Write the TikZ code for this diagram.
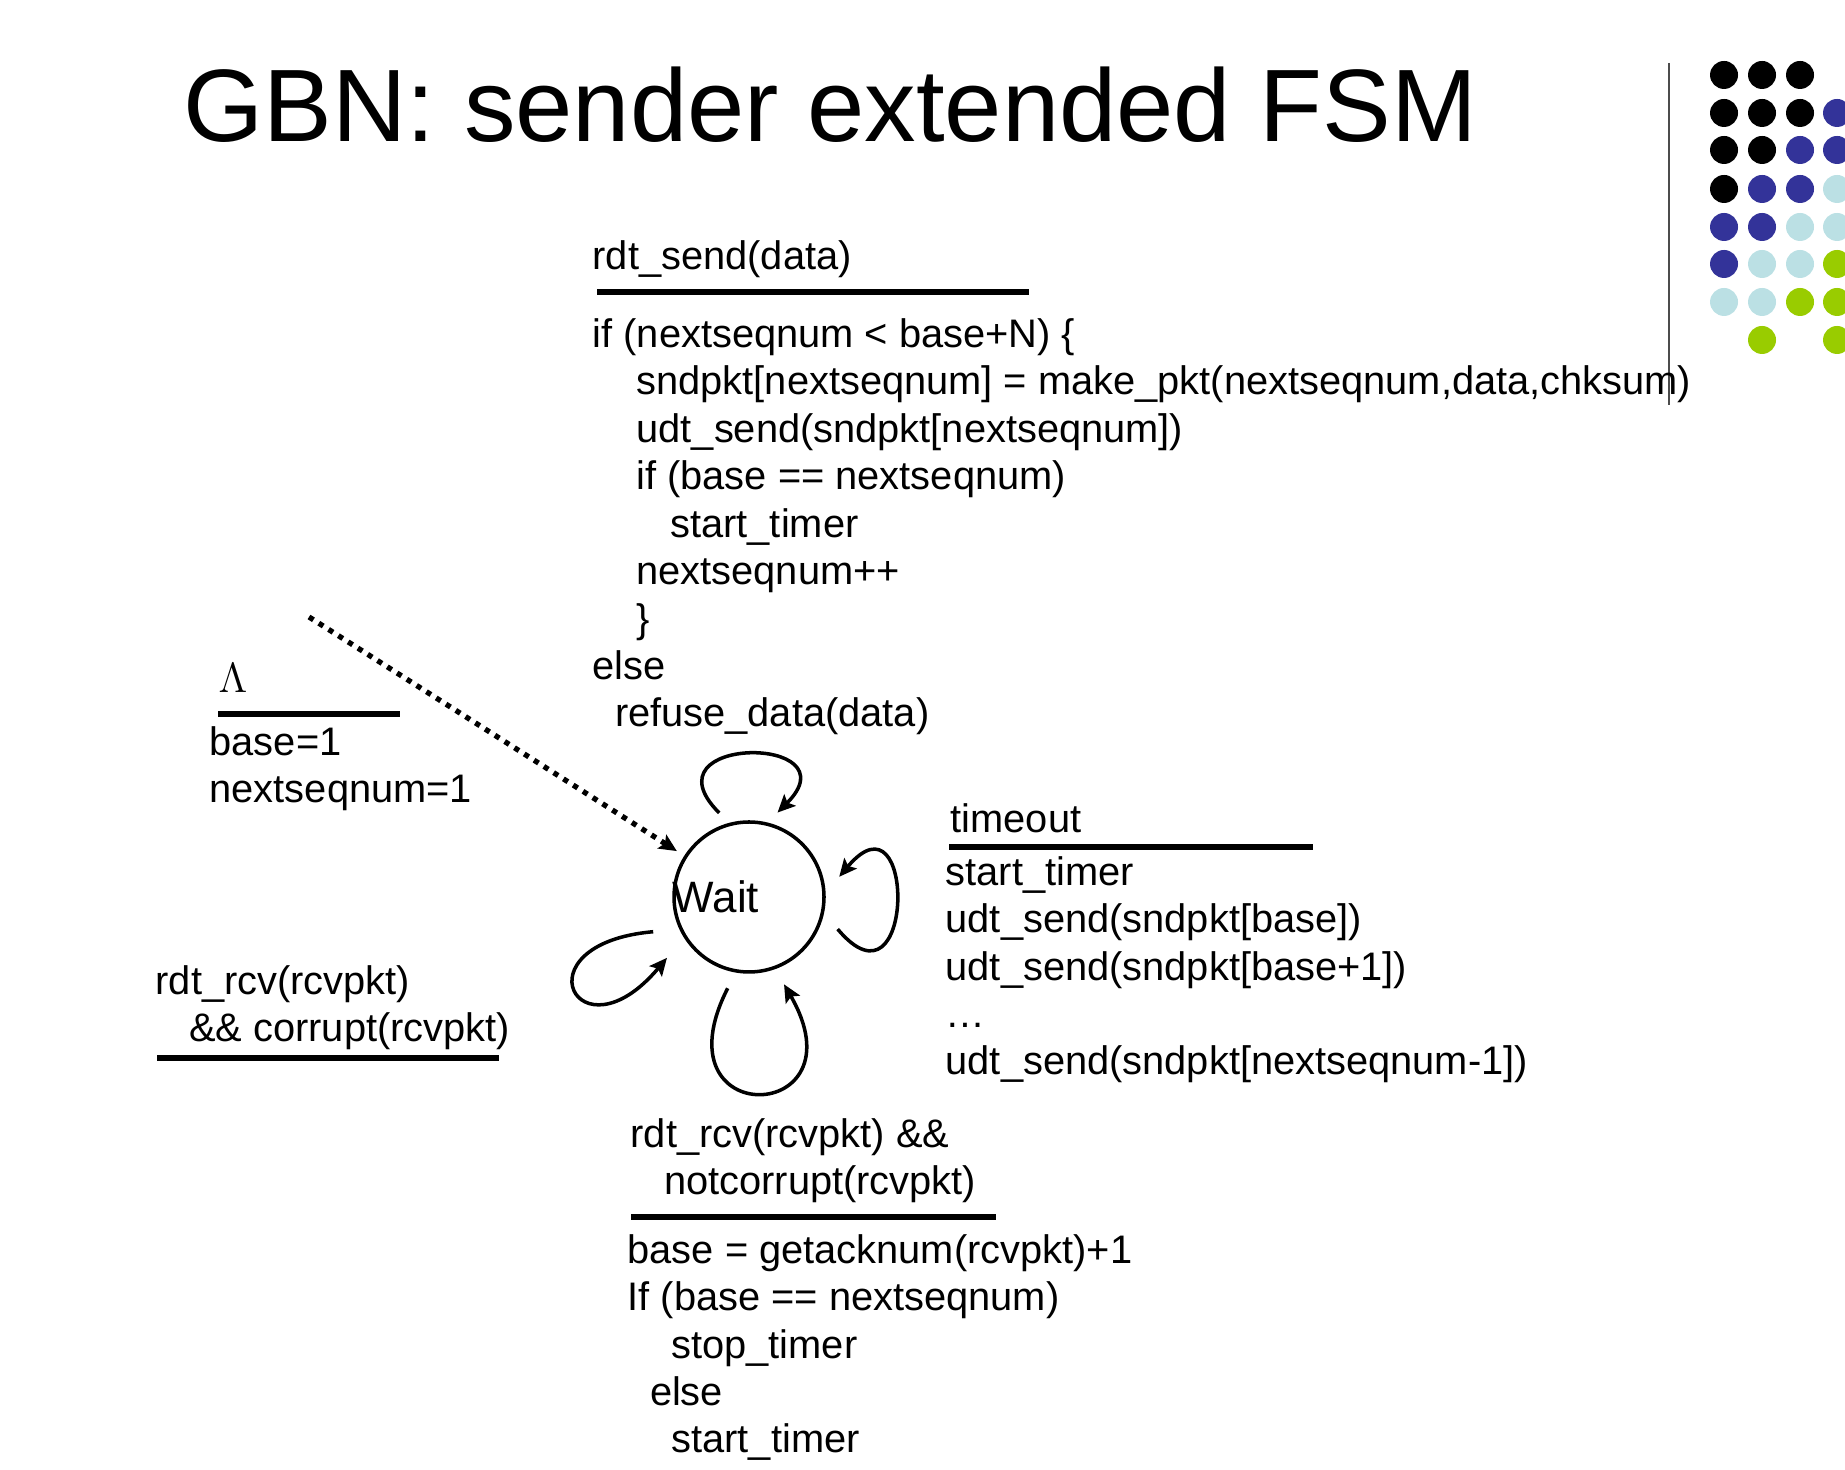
\documentclass[tikz,border=0pt]{standalone}
\usepackage{fontspec}
\setmainfont{Liberation Sans}
\usepackage{tikz}
\usetikzlibrary{arrows.meta}
\definecolor{dotblue}{RGB}{51,51,153}
\definecolor{dotcyan}{RGB}{187,224,228}
\definecolor{dotgreen}{RGB}{153,204,0}
\newcommand{\fsmtext}{\fontsize{11.33}{13.5}\selectfont}

\begin{document}
\begin{tikzpicture}[>={Stealth[length=5pt, width=4.6pt, inset=1pt]},
  evt/.style={anchor=base west, inner sep=0pt, align=left, font=\fsmtext},
  rulebar/.style={line width=1.6pt},
  fsmstate/.style={circle, draw, line width=1pt, minimum size=1.5cm, inner sep=0pt},
  fsmloop/.style={->, line width=1pt},
  initarrow/.style={->, line width=1.5pt, dash pattern=on 1.5pt off 1.8pt}]
  \useasboundingbox (0,0) rectangle (18.45,14.70);

  % title and slide decoration
  \node[anchor=base west, inner sep=0pt, font=\fontsize{29.3}{35}\selectfont] (title)
    at (1.83,13.28) {GBN: sender extended FSM};
  \draw[black!70, line width=0.6pt] (16.69,14.07) -- (16.69,10.65);
  \foreach \cx/\dc in {17.24/black,17.62/black,18.00/black}
    \fill[\dc] (\cx,13.95) circle (0.14);
  \foreach \cx/\dc in {17.24/black,17.62/black,18.00/black,18.37/dotblue}
    \fill[\dc] (\cx,13.57) circle (0.14);
  \foreach \cx/\dc in {17.24/black,17.62/black,18.00/dotblue,18.37/dotblue}
    \fill[\dc] (\cx,13.20) circle (0.14);
  \foreach \cx/\dc in {17.24/black,17.62/dotblue,18.00/dotblue,18.37/dotcyan}
    \fill[\dc] (\cx,12.81) circle (0.14);
  \foreach \cx/\dc in {17.24/dotblue,17.62/dotblue,18.00/dotcyan,18.37/dotcyan}
    \fill[\dc] (\cx,12.43) circle (0.14);
  \foreach \cx/\dc in {17.24/dotblue,17.62/dotcyan,18.00/dotcyan,18.37/dotgreen}
    \fill[\dc] (\cx,12.06) circle (0.14);
  \foreach \cx/\dc in {17.24/dotcyan,17.62/dotcyan,18.00/dotgreen,18.37/dotgreen}
    \fill[\dc] (\cx,11.68) circle (0.14);
  \foreach \cx/\dc in {17.62/dotgreen,18.37/dotgreen}
    \fill[\dc] (\cx,11.30) circle (0.14);

  % the one state
  \node[fsmstate, label={[name=waitlbl, anchor=west, inner sep=0pt,
        font=\fontsize{12.5}{15}\selectfont]west:Wait}] (wait) at (7.49,5.73) {};

  % rdt_send (multi-line nodes sit on their last baseline)
  \node[evt] (sendev) at (5.92,12.00) {rdt\_send(data)};
  \draw[rulebar] (5.97,11.78) -- (10.29,11.78);
  \node[evt] (sendact) at (5.92,7.43) {if (nextseqnum < base+N) \{\\
    \hspace*{1.1em}sndpkt[nextseqnum] = make\_pkt(nextseqnum,data,chksum)\\
    \hspace*{1.1em}udt\_send(sndpkt[nextseqnum])\\
    \hspace*{1.1em}if (base == nextseqnum)\\
    \hspace*{1.95em}start\_timer\\
    \hspace*{1.1em}nextseqnum++\\
    \hspace*{1.1em}\}\\
    else\\
    \hspace*{0.56em}refuse\_data(data)};

  % initial transition
  \node[evt, font=\fontsize{11.7}{14}\selectfont] (initev) at (2.18,7.77) {$\Lambda$};
  \draw[rulebar] (2.18,7.56) -- (4.00,7.56);
  \node[evt] (initact) at (2.09,6.67) {base=1\\nextseqnum=1};
  \coordinate (initstart) at (3.09,8.53);
  \draw[initarrow, shorten >=2.5pt] (initstart) -- (wait);

  % timeout
  \node[evt] (toev) at (9.50,6.37) {timeout};
  \draw[rulebar] (9.49,6.23) -- (13.13,6.23);
  \node[evt] (toact) at (9.45,3.95) {start\_timer\\
    udt\_send(sndpkt[base])\\
    udt\_send(sndpkt[base+1])\\
    …\\
    udt\_send(sndpkt[nextseqnum-1])};

  % corrupt ack
  \node[evt] (crptev) at (1.55,4.28)
    {rdt\_rcv(rcvpkt)\\\hspace*{0.84em}\&\& corrupt(rcvpkt)};
  \draw[rulebar] (1.57,4.12) -- (4.99,4.12);

  % good ack
  \node[evt] (ackev) at (6.30,2.75)
    {rdt\_rcv(rcvpkt) \&\&\\\hspace*{0.84em}notcorrupt(rcvpkt)};
  \draw[rulebar] (6.31,2.53) -- (9.96,2.53);
  \node[evt] (ackact) at (6.27,0.17) {base = getacknum(rcvpkt)+1\\
    If (base == nextseqnum)\\
    \hspace*{1.1em}stop\_timer\\
    \hspace*{0.56em}else\\
    \hspace*{1.1em}start\_timer};

  % self loops
  \draw[fsmloop, shorten <=4pt, shorten >=4pt]
    (wait.105) .. controls +(135:1.25) and +(45:1.25) .. (wait.76);
  \draw[fsmloop, shorten <=6pt, shorten >=6pt]
    (wait.-12) .. controls +(-50:1.42) and +(50:1.42) .. (wait.3);
  \draw[fsmloop, shorten <=7.5pt, shorten >=7.5pt]
    (wait.205) .. controls +(185:1.65) and +(230:1.65) .. (wait.212);
  \draw[fsmloop, shorten <=5pt, shorten >=5pt]
    (wait.260) .. controls +(243:1.8) and +(300:1.8) .. (wait.290);
\end{tikzpicture}
\end{document}
